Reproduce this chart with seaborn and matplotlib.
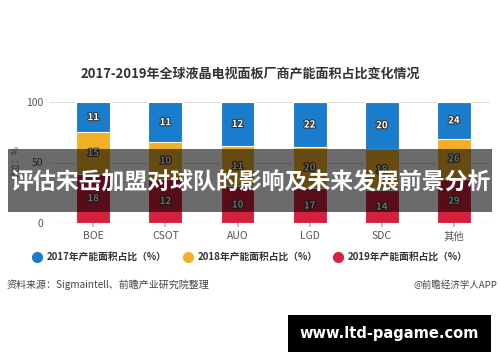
import matplotlib
matplotlib.use("Agg")
import matplotlib.pyplot as plt
import matplotlib.patheffects as pe
from matplotlib.lines import Line2D
from matplotlib.patches import Rectangle
import seaborn as sns
import pandas as pd
import numpy as np

categories = ["BOE", "CSOT", "AUO", "LGD", "SDC", "其他"]
s2017 = [11, 11, 12, 22, 20, 24]
s2018 = [15, 10, 11, 20, 18, 26]
s2019 = [18, 12, 10, 17, 14, 29]
series_names = ["2017年产能面积占比（%）", "2018年产能面积占比（%）", "2019年产能面积占比（%）"]
colors = ["#1a7ccc", "#f2b029", "#d4213d"]

sns.set_theme(style="white")
plt.rcParams["font.family"] = ["Noto Sans CJK SC", "DejaVu Sans"]
plt.rcParams["axes.unicode_minus"] = False

a17, a18, a19 = np.array(s2017), np.array(s2018), np.array(s2019)
tot = a17 + a18 + a19
p17, p18, p19 = a17 / tot * 100, a18 / tot * 100, a19 / tot * 100
df = pd.DataFrame({"cat": categories, "top": p17 + p18 + p19, "mid": p18 + p19, "bot": p19})

fig = plt.figure(figsize=(5, 3.62), dpi=100)
ax = fig.add_axes([0.1, 1 - 223 / 362, 0.88, (223 - 102) / 362])

for col, c in zip(["top", "mid", "bot"], colors):
    sns.barplot(data=df, x="cat", y=col, color=c, width=0.47, ax=ax,
                edgecolor="white", linewidth=0.8, saturation=1, zorder=3)

ax.set_ylim(0, 100)
ax.set_xlim(-0.6, 5.5)
ax.set_yticks([0, 50, 100])
ax.yaxis.grid(True, color="#dddddd", linewidth=0.8, zorder=0)
ax.set_axisbelow(True)
for s in ax.spines.values():
    s.set_visible(False)
ax.axhline(0, color="#bbbbbb", linewidth=0.8, zorder=1)
ax.set_xlabel("")
ax.set_ylabel("单位：%", fontsize=6.5, color="#777777", labelpad=4)
ax.tick_params(axis="x", length=3, color="#bbbbbb", labelsize=7.5, labelcolor="#555555", pad=3, bottom=True)
ax.tick_params(axis="y", length=0, labelsize=7.5, labelcolor="#555555", pad=5)

stroke = [pe.withStroke(linewidth=1.5, foreground="#333333")]
for i in range(len(categories)):
    for val, lo, hi in [(s2019[i], 0, p19[i]), (s2018[i], p19[i], p19[i] + p18[i]),
                        (s2017[i], p19[i] + p18[i], 100)]:
        ax.text(i, (lo + hi) / 2, str(val), ha="center", va="center", fontsize=7,
                color="white", fontweight="bold", path_effects=stroke, zorder=5)

fig.text(0.5, 1 - 75 / 362, "2017-2019年全球液晶电视面板厂商产能面积占比变化情况",
         ha="center", va="center", fontsize=9.4, fontweight="bold", color="#333333")

# legend, placed item by item
leg_y = 1 - 257 / 362
for name, c, mx in zip(series_names, colors, [37, 188, 338]):
    fig.add_artist(Line2D([mx / 500], [leg_y], marker="o", linestyle="", markersize=7,
                          markerfacecolor=c, markeredgecolor=c, transform=fig.transFigure))
    fig.text((mx + 10) / 500, leg_y, name, ha="left", va="center", fontsize=7,
             fontweight="bold", color="#333333")

fig.text(7 / 500, 1 - 285 / 362, "资料来源：Sigmaintell、前瞻产业研究院整理",
         ha="left", va="center", fontsize=7.2, color="#444444")
fig.text(497 / 500, 1 - 285 / 362, "@前瞻经济学人APP",
         ha="right", va="center", fontsize=6.8, color="#444444")

fig.patches.append(Rectangle((8 / 500, 1 - 212 / 362), 484 / 500, 63 / 362,
                             transform=fig.transFigure, facecolor="black", alpha=0.58,
                             edgecolor="none", zorder=10))
fig.text(0.5, 1 - 183 / 362, "评估宋岳加盟对球队的影响及未来发展前景分析",
         ha="center", va="center", fontsize=16.5, fontweight="bold", color="white", zorder=11)

fig.patches.append(Rectangle((288 / 500, 1 - 352 / 362), 203 / 500, 37 / 362,
                             transform=fig.transFigure, facecolor="black",
                             edgecolor="none", zorder=10))
fig.text(389 / 500, 1 - 333.5 / 362, "www.ltd-pagame.com", ha="center", va="center",
         fontsize=10.5, fontweight="bold", color="white", family="DejaVu Sans", zorder=11)

fig.savefig("out.png", dpi=100)
